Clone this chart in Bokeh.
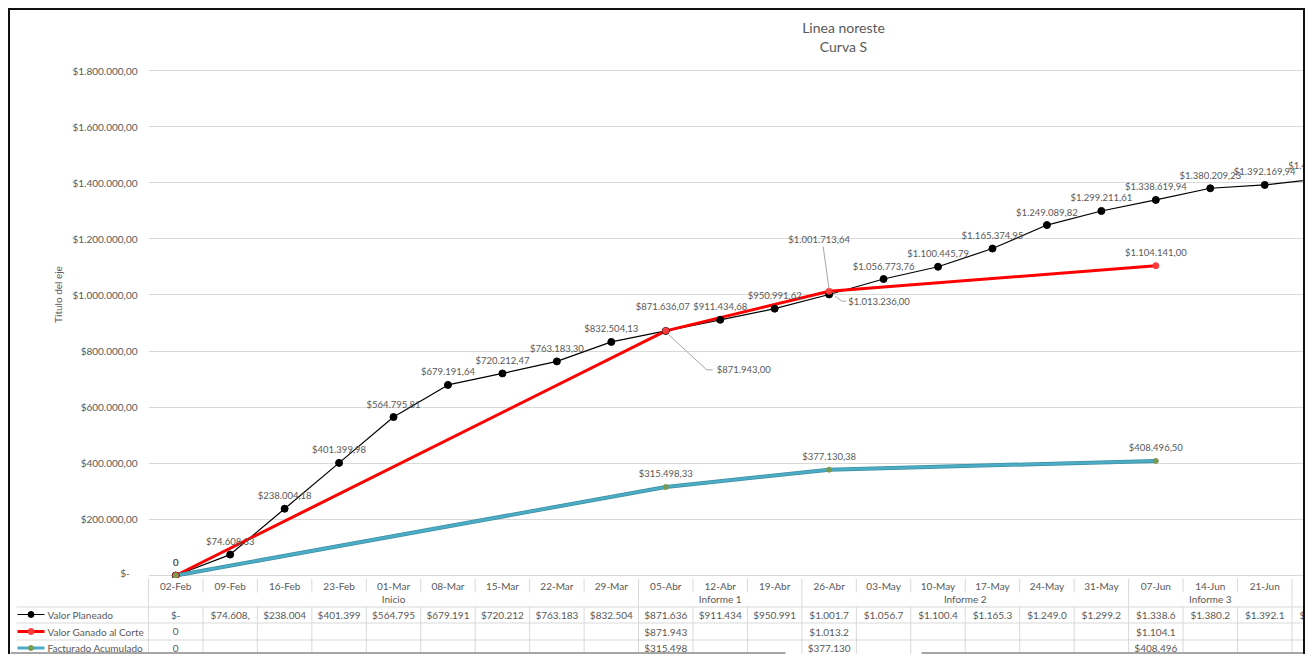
from bokeh.plotting import figure
from bokeh.layouts import column
from bokeh.models import Range1d, FixedTicker, ColumnDataSource, Label
from bokeh.embed import file_html
from bokeh.resources import INLINE
from bokeh.core.properties import value

# ---------------- data ----------------
title_lines = ["Linea noreste", "Curva S"]
y_axis_title = "Titulo del eje"
categories = ["02-Feb", "09-Feb", "16-Feb", "23-Feb", "01-Mar", "08-Mar", "15-Mar", "22-Mar",
              "29-Mar", "05-Abr", "12-Abr", "19-Abr", "26-Abr", "03-May", "10-May", "17-May",
              "24-May", "31-May", "07-Jun", "14-Jun", "21-Jun", "28-Jun"]
group_labels = ["Inicio", "Informe 1", "Informe 2", "Informe 3", ""]
group_sizes = [9, 3, 6, 3, 1]
series_names = ["Valor Planeado", "Valor Ganado al Corte", "Facturado Acumulado"]
valor_planeado = [0.00, 74608.33, 238004.18, 401399.98, 564795.81, 679191.64, 720212.47,
                  763183.30, 832504.13, 871636.07, 911434.68, 950991.62, 1001713.64,
                  1056773.76, 1100445.79, 1165374.95, 1249089.82, 1299211.61, 1338619.94,
                  1380209.23, 1392169.94, 1413500.00]
valor_ganado = [0.00, None, None, None, None, None, None, None, None, 871943.00, None, None,
                1013236.00, None, None, None, None, None, 1104141.00, None, None, None]
facturado = [0.00, None, None, None, None, None, None, None, None, 315498.33, None, None,
             377130.38, None, None, None, None, None, 408496.50, None, None, None]
y_ticks = [0, 200000, 400000, 600000, 800000, 1000000, 1200000, 1400000, 1600000, 1800000]
y_tick_labels = ["$-\u00a0\u00a0\u00a0", "$200.000,00", "$400.000,00", "$600.000,00", "$800.000,00",
                 "$1.000.000,00", "$1.200.000,00", "$1.400.000,00", "$1.600.000,00",
                 "$1.800.000,00"]

# ---------------- helpers ----------------
def es_money(v):
    s = f"{v:,.2f}"
    return "$" + s.replace(",", "_").replace(".", ",").replace("_", ".")

GRAY_TXT = "#595959"
GRID = "#d9d9d9"
FONT = "Lato"
RED = "#ff0000"
TEAL = "#4bacc6"

CAT_PX = 54.45                    # pixels per category
PX_VAL = 1800000 / 505.0          # value units per pixel
FRAME_W = 1155                    # plot-area width
X0 = -0.5
X1 = X0 + FRAME_W / CAT_PX
Y0 = -3 * PX_VAL
Y1 = 565 * PX_VAL

# ---------------- chart ----------------
p = figure(width=1293, height=568, x_range=Range1d(X0, X1), y_range=Range1d(Y0, Y1),
           output_backend="svg", toolbar_location=None, x_axis_location=None,
           min_border_left=138, min_border_right=0, min_border_top=0, min_border_bottom=0,
           frame_align=False)
p.outline_line_color = None
p.xgrid.visible = False
p.ygrid.ticker = FixedTicker(ticks=y_ticks)
p.ygrid.grid_line_color = GRID
yax = p.yaxis[0]
yax.ticker = FixedTicker(ticks=y_ticks)
yax.major_label_overrides = {t: l for t, l in zip(y_ticks, y_tick_labels)}
yax.axis_line_color = None
yax.major_tick_line_color = None
yax.minor_tick_line_color = None
yax.major_tick_out = 0
yax.major_label_standoff = 11
yax.major_label_text_font = FONT
yax.major_label_text_font_size = "10px"
yax.major_label_text_color = GRAY_TXT
yax.axis_label = y_axis_title
yax.axis_label_text_font = FONT
yax.axis_label_text_font_size = "10px"
yax.axis_label_text_font_style = "normal"
yax.axis_label_text_color = GRAY_TXT
yax.axis_label_standoff = 6

idx = list(range(len(categories)))
ge_x = [i for i, v in zip(idx, valor_ganado) if v is not None]
ge_y = [v for v in valor_ganado if v is not None]
fa_x = [i for i, v in zip(idx, facturado) if v is not None]
fa_y = [v for v in facturado if v is not None]

p.line(idx, valor_planeado, line_color="black", line_width=1.2)
p.line(ge_x, ge_y, line_color=RED, line_width=3)
p.line(fa_x, fa_y, line_color="#3f8ea1", line_width=4)
p.line(fa_x, fa_y, line_color=TEAL, line_width=2.5)
p.scatter(idx, valor_planeado, size=7, color="black")
p.scatter(ge_x, ge_y, size=6, color="#ff3b3b")
p.scatter(fa_x, fa_y, size=5, color="#7a9a52")

# data labels (pixel offsets relative to point; special placements)
special = {("p", 0): None,
           ("p", 9): (-3, -24, "center"),
           ("p", 12): (-10, -55, "center"),
           ("g", 9): (51, 39, "left"),
           ("g", 12): (19, 10, "left")}
leaders = {("p", 12): [(0, -5), (-6, -48)],
           ("g", 9): [(3, 4), (41, 39), (47, 39)],
           ("g", 12): [(6, 5), (13, 10), (17, 10)]}

lab = dict(x=[], y=[], text=[], dx=[], dy=[], align=[])
def add_labels(key, xs, ys, zero_text):
    for i, v in zip(xs, ys):
        if (key, i) in special and special[(key, i)] is None:
            continue
        dx, dy, al = special.get((key, i), (0, -13, "center"))
        lab["x"].append(i)
        lab["y"].append(v)
        lab["text"].append(zero_text if v == 0 else es_money(v))
        lab["dx"].append(dx)
        lab["dy"].append(dy)
        lab["align"].append(al)

add_labels("p", idx, valor_planeado, "$-")
add_labels("g", ge_x, ge_y, "0")
add_labels("f", fa_x, fa_y, "0")

for al in ["center", "left"]:
    sel = [k for k, a in enumerate(lab["align"]) if a == al]
    src = ColumnDataSource({c: [lab[c][k] for k in sel] for c in ["x", "y", "text", "dx", "dy"]})
    p.text(x="x", y="y", text="text", x_offset="dx", y_offset="dy", source=src,
           text_align=al, text_baseline="middle", text_font=value(FONT),
           text_font_size="9.5px", text_color=GRAY_TXT)

series_vals = {"p": valor_planeado, "g": valor_ganado, "f": facturado}
for (key, i), pts in leaders.items():
    v = series_vals[key][i]
    xs = [i + dx / CAT_PX for dx, dy in pts]
    ys = [v - dy * PX_VAL for dx, dy in pts]
    p.line(xs, ys, line_color="#a6a6a6", line_width=1)

# title
title_x = X0 + (843 - 148) / CAT_PX
for k, t in enumerate(title_lines):
    p.add_layout(Label(x=title_x, y=(575 - 27 - 19 * k) * PX_VAL, text=t, text_align="center",
                       text_baseline="middle", text_font=FONT, text_font_size="14px",
                       text_color=GRAY_TXT))

# ---------------- data table ----------------
TX0 = X0 - (148 - 10) / CAT_PX
def tx(px):
    return X0 + (px - 148) / CAT_PX

t = figure(width=1293, height=76, x_range=Range1d(TX0, X1), y_range=Range1d(654, 578),
           output_backend="svg", toolbar_location=None, x_axis_location=None,
           y_axis_location=None, min_border=0, frame_align=False)
t.outline_line_color = None
t.grid.visible = False

n = len(categories)
bounds = [k - 0.5 for k in range(n + 1)]
# date row separators
t.segment(x0=bounds, y0=[578] * len(bounds), x1=bounds, y1=[592] * len(bounds),
          line_color=GRID, line_width=1)
# group separators
gb = [-0.5]
for s in group_sizes:
    gb.append(gb[-1] + s)
t.segment(x0=gb, y0=[592] * len(gb), x1=gb, y1=[606] * len(gb), line_color=GRID, line_width=1)
# data row separators
t.segment(x0=bounds, y0=[606] * len(bounds), x1=bounds, y1=[654] * len(bounds),
          line_color=GRID, line_width=1)
row_lines = [606.5, 622.5, 639.5]
t.segment(x0=[tx(16)] * 3, y0=row_lines, x1=[X1] * 3, y1=row_lines, line_color=GRID, line_width=1)

txt_kw = dict(text_font=value(FONT), text_font_size="10px", text_color=GRAY_TXT,
              text_baseline="middle")
t.text(x=idx, y=[585] * n, text=categories, text_align="center", **txt_kw)
gc = [gb[k] + group_sizes[k] / 2 for k in range(len(group_sizes))]
t.text(x=gc, y=[598] * len(gc), text=group_labels, text_align="center", **txt_kw)

row_y = [614, 631, 647.5]
def cell(v, zero_text):
    if v is None:
        return ""
    if v == 0:
        return zero_text
    return es_money(v)[:8]

rows = [[cell(v, "$-") for v in valor_planeado],
        [cell(v, "0") for v in valor_ganado],
        [cell(v, "0") for v in facturado]]
for r, y in zip(rows, row_y):
    t.text(x=idx, y=[y] * n, text=r, text_align="center", **txt_kw)

# legend keys
key_styles = [dict(c="black", w=1.2, mc="black", ms=6),
              dict(c=RED, w=3, mc="#ff3b3b", ms=6),
              dict(c=TEAL, w=3, mc="#7a9a52", ms=5)]
for name, y, st in zip(series_names, row_y, key_styles):
    t.line([tx(17), tx(44)], [y, y], line_color=st["c"], line_width=st["w"])
    t.scatter([tx(30.5)], [y], size=st["ms"], color=st["mc"])
    t.text(x=[tx(47)], y=[y], text=[name], text_align="left", **txt_kw)

# overlapping object edges at the bottom of the screenshot
t.segment(x0=[tx(10), tx(921)], y0=[652.5, 652.5], x1=[tx(785), X1], y1=[652.5, 652.5],
          line_color="#a6a6a6", line_width=2)

layout = column(p, t, margin=(8, 0, 0, 8),
                styles={"border-top": "2px solid #111", "border-left": "2px solid #111",
                        "border-right": "2px solid #111"})

open("out.html", "w").write(file_html(layout, INLINE))
